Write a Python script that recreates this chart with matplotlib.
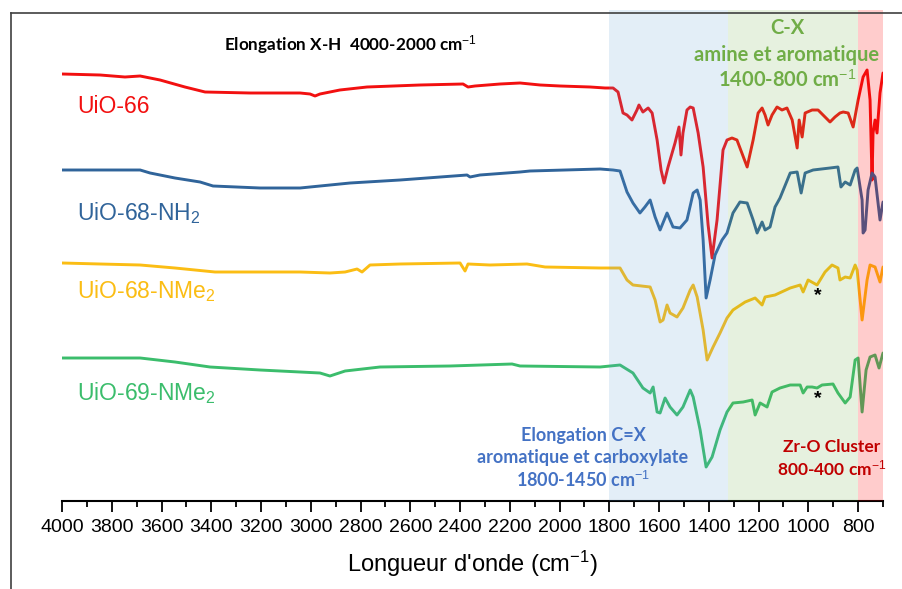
import matplotlib
matplotlib.use('Agg')
import matplotlib.pyplot as plt
from matplotlib.lines import Line2D
from matplotlib.ticker import MultipleLocator

OUTPUT_IMAGE = 'out.png'

# wavenumbers (cm-1) and relative intensity (a.u., stacked offsets included)
UIO66_WN = [4000, 3847, 3747, 3686, 3606, 3506, 3425, 3244, 3043, 3003, 2983, 2963, 2883,
            2774, 2561, 2388, 2368, 2340, 2239, 2159, 2078, 1998, 1877, 1817, 1785, 1765,
            1745, 1729, 1709, 1689, 1681, 1665, 1644, 1628, 1608, 1592, 1580, 1564, 1536,
            1520, 1512, 1504, 1488, 1475, 1463, 1443, 1423, 1403, 1387, 1367, 1343, 1327,
            1307, 1287, 1246, 1222, 1202, 1186, 1174, 1162, 1146, 1126, 1106, 1086, 1065,
            1045, 1037, 1025, 1013, 985, 961, 941, 913, 893, 873, 860, 840, 820, 800, 780,
            764, 752, 744, 740, 732, 724, 712, 700]
UIO66_I = [427, 426, 424, 425, 421, 414, 409, 408, 408, 407, 405, 407, 411,
           414, 416, 417, 414, 415, 417, 418, 416, 415, 414, 413, 413, 409,
           388, 386, 381, 391, 396, 389, 393, 388, 361, 331, 318, 334, 358,
           374, 346, 368, 391, 394, 393, 368, 334, 276, 243, 281, 351, 361,
           363, 361, 334, 361, 388, 393, 386, 376, 386, 394, 391, 393, 381,
           353, 381, 364, 388, 391, 391, 386, 379, 384, 388, 389, 388, 374, 401, 424,
           431, 401, 321, 368, 381, 368, 408, 428]

NH2_WN = [4000, 3847, 3686, 3646, 3546, 3445, 3393, 3204, 3043, 2842, 2641, 2372, 2360,
          2320, 2159, 2119, 1837, 1785, 1757, 1729, 1705, 1677, 1657, 1636, 1616, 1596,
          1568, 1544, 1516, 1488, 1463, 1447, 1435, 1423, 1411, 1395, 1375, 1347, 1327,
          1303, 1275, 1246, 1222, 1206, 1186, 1174, 1154, 1134, 1114, 1073, 1045, 1029,
          1013, 981, 913, 881, 869, 852, 832, 812, 804, 784, 780, 772, 760, 744, 732,
          712, 700]
NH2_I = [331, 331, 331, 328, 323, 319, 315, 313, 313, 318, 321, 326, 324,
         326, 329, 330, 332, 331, 330, 309, 298, 288, 294, 301, 284, 271,
         288, 274, 273, 281, 308, 311, 301, 261, 203, 221, 246, 261, 268,
         288, 299, 298, 281, 268, 279, 271, 274, 294, 303, 328, 329, 308,
         328, 331, 333, 334, 314, 319, 316, 331, 333, 301, 268, 271, 311, 328, 324,
         281, 299]

NME2_68_WN = [4000, 3847, 3686, 3546, 3385, 3204, 3043, 2923, 2862, 2814, 2794, 2762, 2641,
              2400, 2380, 2368, 2280, 2131, 2058, 1837, 1757, 1729, 1705, 1636, 1616, 1596,
              1584, 1568, 1556, 1528, 1504, 1475, 1463, 1447, 1423, 1407, 1383, 1355, 1327,
              1303, 1254, 1214, 1186, 1174, 1134, 1073, 1033, 1021, 1001, 965, 933, 905,
              881, 873, 852, 832, 812, 804, 784, 764, 752, 732, 712, 700]
NME2_68_I = [238, 237, 236, 233, 229, 229, 229, 228, 229, 232, 229, 236, 237,
             238, 230, 237, 236, 237, 234, 233, 233, 221, 216, 214, 201, 179,
             181, 196, 188, 184, 193, 211, 216, 204, 171, 141, 154, 168, 183,
             191, 199, 203, 196, 204, 206, 213, 216, 209, 221, 216, 229, 236,
             233, 221, 224, 223, 236, 231, 181, 221, 236, 234, 219, 234]

NME2_69_WN = [4000, 3686, 3546, 3405, 3204, 3043, 2963, 2923, 2862, 2722, 2440, 2191, 2159,
              1837, 1757, 1705, 1665, 1636, 1624, 1608, 1596, 1576, 1556, 1528, 1504, 1475,
              1463, 1435, 1411, 1387, 1355, 1327, 1303, 1262, 1226, 1214, 1194, 1166, 1146,
              1114, 1073, 1033, 1021, 1005, 985, 965, 945, 901, 881, 852, 832, 812, 800,
              784, 768, 752, 732, 716, 700]
NME2_69_I = [143, 143, 139, 134, 131, 129, 128, 125, 130, 134, 135, 137, 135,
             134, 136, 128, 113, 108, 114, 89, 88, 103, 94, 86, 94, 111,
             104, 71, 34, 44, 71, 89, 98, 99, 101, 86, 98, 94, 109,
             113, 116, 116, 108, 114, 114, 113, 116, 117, 108, 98, 104, 141, 143,
             89, 131, 144, 146, 133, 148]

SERIES = [
    ('UiO-66', UIO66_WN, UIO66_I, '#f21010', 388),
    ('UiO-68-NH$_2$', NH2_WN, NH2_I, '#30649a', 281),
    ('UiO-68-NMe$_2$', NME2_68_WN, NME2_68_I, '#fbbd14', 203),
    ('UiO-69-NMe$_2$', NME2_69_WN, NME2_69_I, '#3bbd6c', 101),
]

# spectral regions (cm-1)
REGIONS = [(1800, 1325, '#5b9bd5', 0.17), (1325, 800, '#70ad47', 0.17), (800, 700, '#ff0000', 0.2)]

STAR_WN = [961, 961]
STAR_I = [205, 102]

NOTE_FONT = ['Lato', 'DejaVu Sans']


def main():
    plt.rcParams['font.family'] = ['Liberation Sans', 'DejaVu Sans']
    plt.rcParams['mathtext.fontset'] = 'custom'
    plt.rcParams['mathtext.rm'] = 'Liberation Sans'
    plt.rcParams['mathtext.it'] = 'Liberation Sans'

    fig = plt.figure(figsize=(9.02, 5.89), dpi=100)
    ax = fig.add_axes([62 / 902, 88 / 589, (883 - 62) / 902, (501 - 10) / 589])

    for name, wn, inten, color, label_y in SERIES:
        ax.plot(wn, inten, color=color, lw=2.1, zorder=2,
                solid_joinstyle='round', solid_capstyle='round')
        ax.text(3940, label_y, name, color=color, fontsize=16.5, ha='left', va='baseline')

    for hi, lo, color, alpha in REGIONS:
        ax.axvspan(lo, hi, ymin=0, ymax=1, color=color, alpha=alpha, lw=0, zorder=3)

    for wn, inten in zip(STAR_WN, STAR_I):
        ax.text(wn, inten, '*', fontsize=14, fontweight='bold', ha='center', va='center', zorder=4)

    note = dict(family=NOTE_FONT, fontweight='bold', ha='center', va='center', zorder=4)
    ax.text(2842, 456, 'Elongation X-H  4000-2000 cm$^{-1}$', fontsize=12.3, color='black', **note)
    ax.text(1086, 473, 'C-X', fontsize=14.5, color='#70ad47', **note)
    ax.text(1086, 446, 'amine et aromatique', fontsize=14.5, color='#70ad47', **note)
    ax.text(1086, 421, '1400-800 cm$^{-1}$', fontsize=14.5, color='#70ad47', **note)
    ax.text(1906, 65, 'Elongation C=X', fontsize=13, color='#4472c4', **note)
    ax.text(1906, 43, 'aromatique et carboxylate', fontsize=13, color='#4472c4', **note)
    ax.text(1906, 21, '1800-1450 cm$^{-1}$', fontsize=13, color='#4472c4', **note)
    ax.text(905, 54, 'Zr-O Cluster', fontsize=12.5, color='#c00000', **note)
    ax.text(905, 33, '800-400 cm$^{-1}$', fontsize=12.5, color='#c00000', **note)

    ax.set_xlim(4000, 700)
    ax.set_ylim(0, 491)
    ax.xaxis.set_minor_locator(MultipleLocator(100))
    ax.set_xticks(range(4000, 799, -200))
    ax.tick_params(axis='x', which='major', length=8, width=1.3, direction='out', pad=5,
                   labelsize=14)
    ax.tick_params(axis='x', which='minor', length=4, width=1.3, direction='out')
    ax.set_yticks([])
    for side in ('left', 'right', 'top'):
        ax.spines[side].set_visible(False)
    ax.spines['bottom'].set_linewidth(1.5)
    ax.set_xlabel("Longueur d'onde (cm$^{-1}$)", fontsize=17, labelpad=9)

    # chart frame
    fig.add_artist(Line2D([10.5 / 902, 10.5 / 902], [0, 1 - 13 / 589], color='#404040', lw=1.2))
    fig.add_artist(Line2D([10.5 / 902, 1], [1 - 13 / 589, 1 - 13 / 589], color='#404040', lw=1.2))

    fig.savefig(OUTPUT_IMAGE, dpi=100)


if __name__ == '__main__':
    main()
